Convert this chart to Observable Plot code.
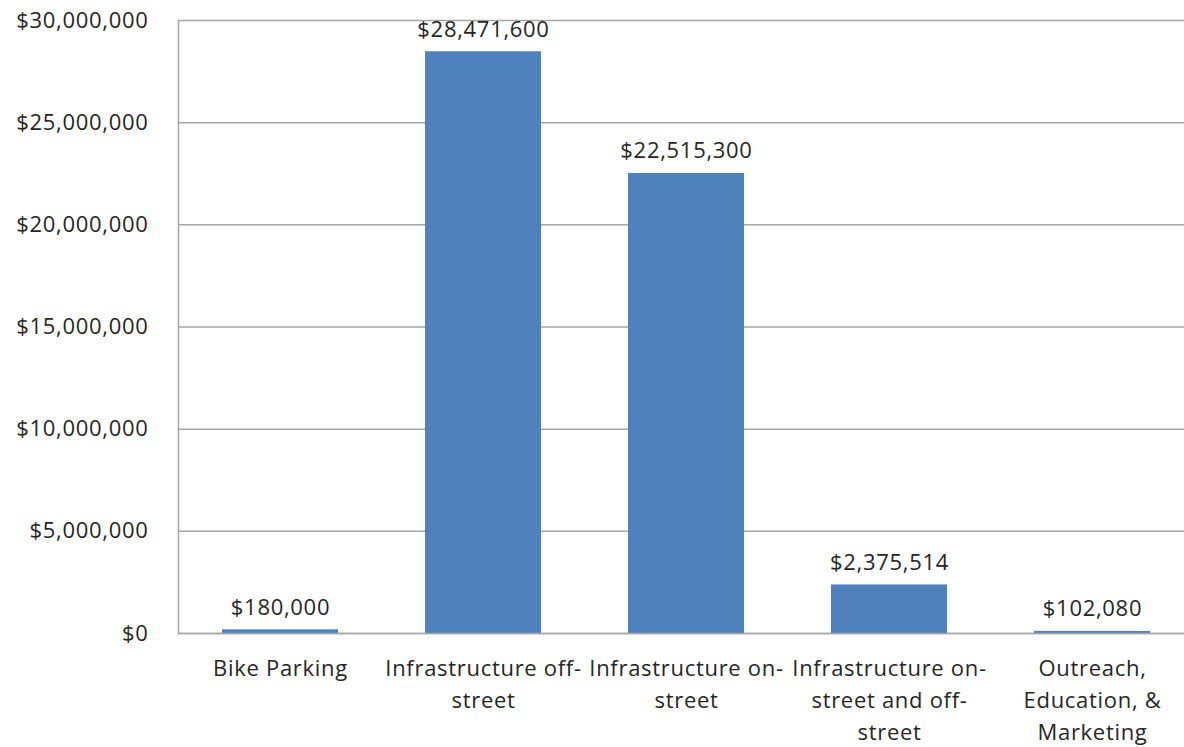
<!DOCTYPE html>
<html>
<head>
<meta charset="utf-8">
<script src="https://cdn.jsdelivr.net/npm/d3@7"></script>
<script src="https://cdn.jsdelivr.net/npm/@observablehq/plot@0.6"></script>
<style>
  html, body { margin: 0; padding: 0; background: #fff; }
  #chart svg { display: block; }
</style>
</head>
<body>
<div id="chart"></div>
<script>
const categories = [
  "Bike Parking",
  "Infrastructure off-street",
  "Infrastructure on-street",
  "Infrastructure on-street and off-street",
  "Outreach, Education, & Marketing"
];
const categoryLabels = [
  "Bike Parking",
  "Infrastructure off-\nstreet",
  "Infrastructure on-\nstreet",
  "Infrastructure on-\nstreet and off-\nstreet",
  "Outreach,\nEducation, &\nMarketing"
];
const amounts = [180000, 28471600, 22515300, 2375514, 102080];
const yTicks = [0, 5000000, 10000000, 15000000, 20000000, 25000000, 30000000];

const data = categories.map((c, i) => ({category: c, amount: amounts[i]}));
const labelOf = new Map(categories.map((c, i) => [c, categoryLabels[i]]));
const money = d => "$" + d3.format(",")(d);

const font = "'Open Sans', sans-serif";
const textColor = "#262626";
const fs = 22;

const chart = Plot.plot({
  width: 1184,
  height: 747,
  marginLeft: 178,
  marginRight: 0,
  marginTop: 20,
  marginBottom: 114,
  style: {fontFamily: font, fontSize: fs + "px", color: textColor, background: "#fff", letterSpacing: "0.7px"},
  x: {domain: categories, range: [178, 1193], paddingInner: 0.43, paddingOuter: 0.215, label: null},
  y: {domain: [0, 30000000], label: null},
  marks: [
    Plot.gridY(yTicks, {stroke: "#a6a6a6", strokeOpacity: 1, strokeWidth: 1.5}),
    Plot.frame({anchor: "left", stroke: "#a6a6a6", strokeWidth: 1.5}),
    Plot.barY(data, {x: "category", y: "amount", fill: "#4f81bd"}),
    Plot.ruleY([0], {stroke: "#a6a6a6", strokeWidth: 1.5}),
    Plot.text(data, {x: "category", y: "amount", text: d => money(d.amount), dy: -22, fill: textColor, fontSize: fs}),
    Plot.axisY({ticks: yTicks, tickFormat: money, tickSize: 0, tickPadding: 30, fontSize: fs, fill: textColor, label: null}),
    Plot.axisX({tickSize: 0, tickPadding: 20, fontSize: fs, lineHeight: 1.45, fill: textColor, label: null, tickFormat: d => labelOf.get(d)})
  ]
});
document.getElementById("chart").appendChild(chart);
</script>
</body>
</html>
